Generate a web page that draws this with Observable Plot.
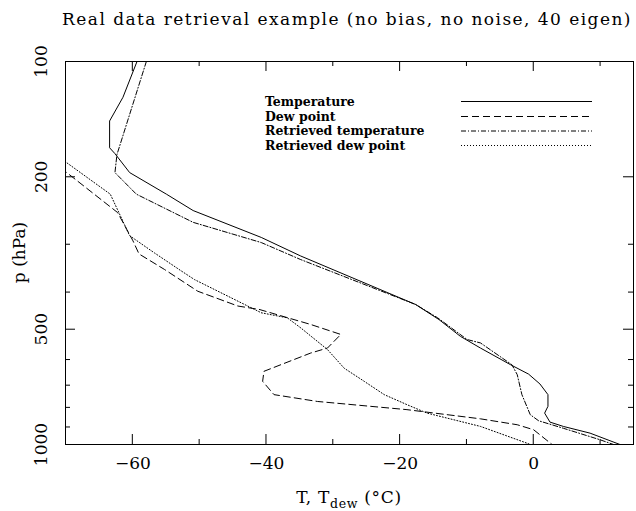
<!DOCTYPE html>
<html><head><meta charset="utf-8">
<script src="https://cdn.jsdelivr.net/npm/d3@7"></script>
<script src="https://cdn.jsdelivr.net/npm/@observablehq/plot@0.6"></script>
<style>body{margin:0;background:#fff} #chart{width:636px;}</style>
</head><body><div id="chart"></div>
<script>
const title = "Real data retrieval example (no bias, no noise, 40 eigen)";
const seriesNames = ["Temperature", "Dew point", "Retrieved temperature", "Retrieved dew point"];

// Temperature (solid)
const tempP = [100, 124, 143, 168, 174, 195, 222, 245, 288, 322, 431, 472, 522, 560, 619, 655, 695, 741, 795, 828, 874, 897, 934, 1005];
const tempT = [-59.3, -61.4, -63.4, -63.4, -62.6, -60.4, -54.9, -50.9, -40.7, -34.8, -17.6, -14.1, -10.9, -7.9, -3.4, -0.7, 1.0, 2.2, 2.2, 1.7, 2.5, 4.5, 8.5, 13.3];

// Dew point (dashed)
const dewP = [182, 248, 294, 318, 349, 398, 435, 444, 486, 516, 560, 577, 644, 684, 741, 772, 811, 857, 888, 915, 990, 1000];
const dewT = [-72.0, -62.2, -59.9, -59.0, -55.2, -50.2, -44.2, -41.0, -33.3, -28.8, -30.8, -33.3, -40.3, -40.5, -38.8, -32.3, -18.9, -7.9, -2.4, 0.05, 2.5, 2.8];

// Retrieved temperature (dash-dot)
const rtempP = [100, 175, 195, 222, 263, 297, 329, 431, 467, 532, 543, 619, 657, 741, 836, 867, 907, 972, 1000];
const rtempT = [-57.9, -62.3, -62.6, -59.4, -50.9, -40.7, -34.8, -17.6, -14.3, -9.9, -7.9, -3.2, -2.4, -1.7, -0.45, 0.8, 4.5, 10.0, 12.0];

// Retrieved dew point (dotted)
const rdewP = [171, 222, 285, 316, 352, 371, 453, 467, 496, 565, 632, 684, 741, 787, 828, 897, 992, 1000];
const rdewT = [-72.3, -63.3, -60.4, -56.7, -52.7, -50.7, -40.7, -36.8, -34.8, -30.8, -28.3, -25.3, -22.3, -18.9, -15.9, -7.9, -0.95, -0.45];

const xMajor = [-60, -40, -20, 0];
const xMinor = [-50, -30, -10, 10];
const yMajor = [100, 200, 500, 1000];
const yMinor = [300, 400, 600, 700, 800, 900];

const dashes = [null, "7,4", "5,2,1,2", "1,2"];
const series = [[tempP, tempT], [dewP, dewT], [rtempP, rtempT], [rdewP, rdewT]];

const W = 636, H = 511, mL = 65, mR = 3, mT = 61, mB = 67;
const fw = W - mL - mR, fh = H - mT - mB;
const FONT = "DejaVu Serif";
const fmt = d => d < 0 ? "\u2212" + Math.abs(d) : String(d);

const lineMarks = series.map(([P, T], i) =>
  Plot.line(P.map((p, j) => ({p, t: T[j]})), {
    x: "t", y: "p", stroke: "black", strokeWidth: 1,
    strokeDasharray: dashes[i], clip: true
  })
);

const svg = Plot.plot({
  width: W, height: H,
  marginLeft: mL, marginRight: mR, marginTop: mT, marginBottom: mB,
  x: {domain: [-70, 15], axis: null},
  y: {type: "log", domain: [100, 1000], reverse: true, axis: null},
  style: {fontFamily: FONT, background: "white", color: "black"},
  marks: [
    ...lineMarks,
    Plot.frame({stroke: "black"}),
    Plot.ruleX(xMajor, {x: d => d, insetTop: fh - 10, stroke: "black"}),
    Plot.ruleX(xMajor, {x: d => d, insetBottom: fh - 10, stroke: "black"}),
    Plot.ruleX(xMinor, {x: d => d, insetTop: fh - 5, stroke: "black"}),
    Plot.ruleX(xMinor, {x: d => d, insetBottom: fh - 5, stroke: "black"}),
    Plot.ruleY(yMajor, {y: d => d, insetRight: fw - 10, stroke: "black"}),
    Plot.ruleY(yMajor, {y: d => d, insetLeft: fw - 10, stroke: "black"}),
    Plot.ruleY(yMinor, {y: d => d, insetRight: fw - 5, stroke: "black"}),
    Plot.ruleY(yMinor, {y: d => d, insetLeft: fw - 5, stroke: "black"}),
    Plot.text(xMajor, {x: d => d, frameAnchor: "bottom", dy: 19, dx: 0.5, text: fmt, fontSize: 17, lineAnchor: "middle", fill: "black", style: "letter-spacing:1px"}),
    Plot.text(yMajor, {y: d => d, frameAnchor: "left", dx: -24, rotate: -90, text: fmt, fontSize: 17, textAnchor: "middle", lineAnchor: "middle", fill: "black"})
  ]
});

document.getElementById("chart").appendChild(svg);
const s = d3.select(svg);

// title
s.append("text")
  .attr("x", 347).attr("y", 25)
  .attr("text-anchor", "middle")
  .attr("font-family", FONT).attr("font-size", 17)
  .attr("letter-spacing", "1.45px")
  .attr("fill", "black").text(title);

// y-axis label, rotated, centred on the frame's middle
s.append("text")
  .attr("transform", "rotate(-90)")
  .attr("x", -(mT + fh / 2)).attr("y", 25)
  .attr("text-anchor", "middle")
  .attr("font-family", FONT).attr("font-size", 17)
  .attr("fill", "black").text("p (hPa)");

// x-axis label with subscript
const xl = s.append("text")
  .attr("x", mL + fw / 2).attr("y", 503)
  .attr("text-anchor", "middle")
  .attr("font-family", FONT).attr("font-size", 17)
  .attr("letter-spacing", "0.7px")
  .attr("fill", "black");
xl.append("tspan").text("T, T");
xl.append("tspan").attr("dy", 5).attr("font-size", 12.5).text("dew");
xl.append("tspan").attr("dy", -5).text(" (\u00B0C)");

// legend
const lg = s.append("g");
const rowsY = [101.5, 116.5, 131, 145.5];
seriesNames.forEach((name, i) => {
  lg.append("text").attr("x", 265).attr("y", rowsY[i] + 4)
    .attr("text-anchor", "start")
    .attr("font-family", FONT).attr("font-size", 12.5).attr("font-weight", "bold")
    .attr("fill", "black").text(name);
  const ln = lg.append("line").attr("x1", 461).attr("x2", 592)
    .attr("y1", rowsY[i]).attr("y2", rowsY[i])
    .attr("stroke", "black").attr("stroke-width", 1);
  if (dashes[i]) ln.attr("stroke-dasharray", dashes[i]);
});
</script>
</body></html>
